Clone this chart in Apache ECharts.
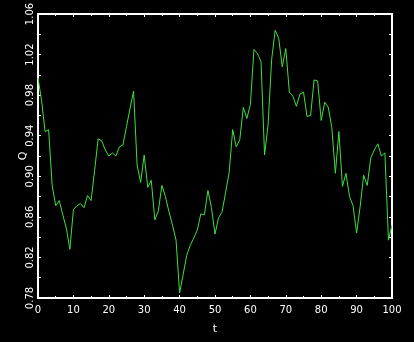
<!DOCTYPE html>
<html>
<head>
<meta charset="utf-8">
<script src="https://cdn.jsdelivr.net/npm/echarts@6/dist/echarts.min.js"></script>
<style>
html,body{margin:0;padding:0;background:#000;}
#chart{width:414px;height:342px;}
</style>
</head>
<body>
<div id="chart"></div>
<script>
const tValues = [0,1,2,3,4,5,6,7,8,9,10,11,12,13,14,15,16,17,18,19,20,21,22,23,24,25,26,27,28,29,30,31,32,33,34,35,36,37,38,39,40,41,42,43,44,45,46,47,48,49,50,51,52,53,54,55,56,57,58,59,60,61,62,63,64,65,66,67,68,69,70,71,72,73,74,75,76,77,78,79,80,81,82,83,84,85,86,87,88,89,90,91,92,93,94,95,96,97,98,99,100];
const qValues = [0.997,0.975,0.944,0.946,0.891,0.871,0.876,0.862,0.849,0.828,
0.867,0.871,0.873,0.869,0.881,0.876,0.906,0.937,0.935,0.926,
0.920,0.923,0.920,0.929,0.931,0.949,0.967,0.984,0.911,0.894,
0.921,0.889,0.896,0.857,0.866,0.891,0.880,0.865,0.852,0.837,
0.785,0.803,0.822,0.832,0.839,0.847,0.863,0.862,0.886,0.869,
0.843,0.859,0.865,0.884,0.904,0.946,0.929,0.936,0.968,0.957,
0.971,1.025,1.021,1.013,0.921,0.951,1.015,1.044,1.036,1.008,
1.026,0.983,0.979,0.969,0.981,0.983,0.959,0.960,0.995,0.994,
0.955,0.973,0.968,0.948,0.903,0.944,0.890,0.903,0.880,0.871,
0.844,0.870,0.901,0.891,0.918,0.926,0.932,0.920,0.923,0.837,0.852];
const xTickLabels = ['0','10','20','30','40','50','60','70','80','90','100'];
const yTickLabels = ['0.78','0.82','0.86','0.90','0.94','0.98','1.02','1.06'];

const chart = echarts.init(document.getElementById('chart'));
const white = '#ffffff';
const font = 'DejaVu Sans';
function yFmt(v){
  const k = Math.round((v - 0.78) / 0.02);
  return k % 2 === 0 ? (yTickLabels[k/2] || '') : '';
}
function xFmt(v){
  const k = Math.round(v / 10);
  return xTickLabels[k] || '';
}
const baseX = {type:'value', min:0, max:100, interval:10,
  axisLine:{show:true, onZero:false, lineStyle:{color:white, width:2}},
  axisTick:{show:true, inside:true, length:3, lineStyle:{color:white}},
  minorTick:{show:true, splitNumber:2, length:2, lineStyle:{color:white}},
  splitLine:{show:false}};
const baseY = {type:'value', min:0.78, max:1.06, interval:0.02,
  axisLine:{show:true, onZero:false, lineStyle:{color:white, width:2}},
  axisTick:{show:true, inside:true, length:3, lineStyle:{color:white}},
  splitLine:{show:false}};
chart.setOption({
  backgroundColor:'#000000',
  animation:false,
  grid:{left:38, right:22, top:14, bottom:44, outerBoundsMode:'none', containLabel:false},
  xAxis:[
    Object.assign({}, baseX, {position:'bottom', name:'t', nameLocation:'middle', nameGap:26, nameMoveOverlap:false,
      nameTextStyle:{color:white, fontFamily:font, fontSize:11},
      axisLabel:{color:white, fontFamily:font, fontSize:10, margin:7, formatter:xFmt}}),
    Object.assign({}, baseX, {position:'top', axisLabel:{show:false}})
  ],
  yAxis:[
    Object.assign({}, baseY, {position:'left', name:'Q', nameLocation:'middle', nameGap:9, nameRotate:90, nameMoveOverlap:false,
      nameTextStyle:{color:white, fontFamily:font, fontSize:11},
      axisLabel:{color:white, fontFamily:font, fontSize:10, margin:3, rotate:90, formatter:yFmt}}),
    Object.assign({}, baseY, {position:'right', axisLabel:{show:false}})
  ],
  series:[{
    type:'line', xAxisIndex:0, yAxisIndex:0,
    data: tValues.map((t,i)=>[t, qValues[i]]),
    showSymbol:false, symbol:'none',
    lineStyle:{color:'#3ee03e', width:1},
    itemStyle:{color:'#3ee03e'}
  }]
});
</script>
</body>
</html>
